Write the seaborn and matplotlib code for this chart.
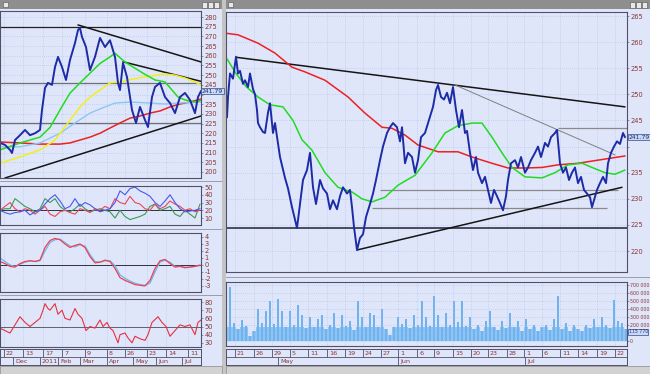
import matplotlib
matplotlib.use("Agg")
import matplotlib.pyplot as plt
import matplotlib.transforms as mtransforms
import seaborn as sns
from matplotlib.patches import Rectangle

sns.set_theme(style="white")
plt.rcParams["font.family"] = ["DejaVu Sans"]

# ---------------- data: left window (daily, bar index) ----------------
left_idx = [0, 5, 10, 12, 15, 20, 25, 30, 35, 40, 42, 45, 48, 52, 55, 58, 62, 66, 70, 75,
            78, 80, 82, 86, 90, 95, 100, 105, 110, 115, 118, 120, 123, 127, 132, 136, 140,
            145, 148, 152, 155, 160, 165, 170, 175, 180, 185, 190, 195, 198, 201]
left_close = [215, 214, 211.4, 209.8, 216.5, 219, 221.7, 219, 220, 221.7, 232, 243.4, 246,
              245, 254.2, 259.4, 254.2, 247.5, 257.8, 266.6, 273.3, 274.3, 269.7, 264.5,
              252.6, 259.4, 269.2, 264.5, 268, 259.4, 246, 242.3, 256.3, 249, 232, 225.3,
              233.6, 226.8, 223.2, 238.7, 243.9, 246, 238.7, 235.6, 230.4, 238.7, 240.8,
              237.2, 230.4, 238.7, 241.79]

left_green_idx = [0, 20, 40, 50, 60, 70, 80, 90, 100, 110, 115, 120, 125, 133, 143, 155,
                  165, 172, 178, 185, 195, 201]
left_green = [211.4, 215, 218, 223, 232, 240.7, 246, 251, 256, 259.4, 261.3, 259, 256.8,
              254.2, 251, 247.5, 246.5, 242.3, 238.7, 237.2, 236.1, 237]
left_yellow_idx = [0, 20, 40, 55, 70, 80, 90, 100, 110, 120, 133, 150, 165, 175, 185, 195, 201]
left_yellow = [204.6, 207.8, 211.4, 216.5, 226.8, 233.6, 238.7, 242.3, 246, 246.5, 248,
               249.5, 250.6, 250, 248.5, 246.5, 245]
left_lblue_idx = [0, 20, 40, 60, 75, 90, 105, 115, 130, 150, 165, 180, 201]
left_lblue = [213, 213, 215, 220, 225.3, 230.4, 233.6, 235.6, 236.1, 235.6, 235.1, 235.6, 236.1]
left_red_idx = [0, 20, 40, 60, 70, 80, 90, 100, 110, 120, 130, 140, 150, 160, 170, 180, 190, 201]
left_red = [215.5, 215, 214.4, 214.4, 215, 216.5, 218, 220, 222.7, 225.3, 227.8, 228.9,
            230.4, 231.5, 233.6, 235.1, 236.1, 237.7]

left_trend_a = ([78, 201], [275.9, 256.8])
left_trend_b = ([123, 201], [256.9, 246.8])
left_trend_low = ([5, 201], [196.9, 228.9])
left_levels = [275, 246.1, 225.4]

osc_idx = list(range(0, 201, 5))
osc_blue = [20, 17, 15, 17, 18, 20, 14, 18, 20, 28, 35, 40, 32, 22, 25, 35, 25, 30, 27, 22,
            18, 20, 22, 30, 45, 40, 48, 50, 45, 42, 38, 30, 25, 32, 40, 30, 22, 18, 19, 20, 22]
osc_red = [20, 25, 30, 22, 18, 22, 20, 15, 20, 25, 15, 12, 18, 20, 17, 15, 22, 20, 17, 22,
           20, 25, 22, 35, 30, 28, 38, 30, 28, 22, 20, 28, 22, 25, 32, 28, 25, 20, 22, 18, 20]
osc_green = [20, 22, 22, 35, 30, 25, 22, 18, 22, 35, 30, 35, 25, 20, 18, 22, 28, 22, 18, 20,
             22, 20, 18, 10, 20, 12, 8, 10, 12, 15, 25, 28, 20, 22, 25, 15, 12, 20, 15, 10, 28]

macd_red = [0.5, 0.2, -0.2, -0.3, 0.2, 0.5, 0.6, 0.5, 0.7, 2.5, 3.5, 3.8, 3.6, 3.0, 2.5,
            2.8, 3.0, 2.5, 1.2, 0.3, 0.4, 0.7, 0.5, -0.5, -1.8, -2.2, -2.5, -2.8, -2.9, -3.0,
            -2.2, -0.5, 0.6, 0.8, 0.2, -0.3, -0.2, -0.4, -0.3, -0.2, 0.0]
macd_blue = [1.0, 0.5, 0.0, -0.2, 0.1, 0.4, 0.6, 0.5, 0.6, 2.0, 3.2, 3.6, 3.7, 3.2, 2.7,
             2.6, 2.9, 2.7, 1.5, 0.5, 0.4, 0.6, 0.6, -0.1, -1.4, -1.9, -2.3, -2.6, -2.8, -2.9,
             -2.6, -1.0, 0.4, 0.7, 0.4, -0.2, -0.2, -0.3, -0.3, -0.2, -0.1]

rsi_idx = [0, 5, 10, 15, 20, 25, 30, 35, 40, 43, 45, 48, 50, 55, 58, 62, 65, 70, 75, 78, 82,
           86, 90, 95, 100, 103, 107, 110, 113, 118, 120, 125, 128, 132, 135, 140, 145, 148,
           152, 158, 162, 166, 170, 175, 180, 185, 190, 195, 198, 201]
rsi_vals = [48, 45, 42, 52, 62, 55, 50, 55, 60, 70, 78, 72, 70, 78, 65, 70, 60, 58, 72, 65,
            60, 45, 50, 48, 58, 50, 55, 48, 45, 30, 40, 42, 36, 30, 38, 35, 33, 40, 55, 62,
            55, 50, 38, 45, 52, 50, 52, 40, 55, 58]

left_day_pos = [4, 23, 43, 62, 85, 107, 125, 147, 166, 188]
left_day_lab = ["22", "13", "17", "7", "9", "8", "26", "23", "14", "11"]
left_mon_pos = [13, 40, 58, 80, 107, 133, 156, 182]
left_mon_lab = ["Dec", "2011", "Feb", "Mar", "Apr", "May", "Jun", "Jul"]

# ---------------- data: right window (hourly, bar index) ----------------
main_idx = [1, 2, 4, 7, 10, 12, 14, 17, 19, 22, 24, 27, 29, 31, 32, 34, 37, 39, 42, 44, 47,
            49, 54, 59, 62, 66, 69, 71, 74, 77, 81, 84, 87, 90, 94, 97, 101, 104, 107, 111,
            114, 117, 121, 124, 126, 128, 131, 134, 137, 140, 144, 147, 150, 154, 157, 161,
            164, 167, 171, 174, 176, 179, 182, 186, 189, 192, 195, 199, 202, 207, 210, 212,
            215, 218, 221, 224, 227, 230, 233, 236, 239, 241, 244, 247, 250, 252, 256, 259,
            262, 265, 268, 271, 274, 277, 280, 282, 285, 289, 292, 295, 299, 302, 305, 309,
            312, 315, 319, 322, 325, 329, 331, 334, 337, 340, 343, 346, 349, 352, 355, 358,
            361, 364, 366, 368, 371, 374, 377, 380, 382, 385, 388, 391, 394, 397, 399]
main_close = [245.6, 249.5, 254, 253, 257.2, 254, 254.5, 252, 252.7, 251.4, 254, 251, 250,
              247, 244.5, 243.7, 242.8, 242.6, 246.5, 248.3, 242.6, 244.5, 238, 234, 232,
              228.4, 226, 224.4, 229, 233.6, 235.5, 238.8, 232.2, 229, 233.6, 232, 231, 228,
              229.7, 228, 230.5, 232.2, 231, 231.7, 228.4, 224.6, 220.2, 222.5, 223.2, 226.5,
              229, 231, 233.6, 237.4, 240, 242.6, 243.7, 244.5, 243.7, 241, 243.7, 236.8,
              238.8, 238, 235, 237.4, 241.8, 242.6, 244.5, 247.6, 250.8, 251.8, 249.5, 249,
              250.3, 248.3, 251.4, 247, 243.7, 247, 242.6, 243, 238.8, 235.5, 238, 235, 233,
              234.2, 231.7, 229.2, 231.7, 230.5, 229.2, 227.8, 230.5, 233.6, 236.8, 237.4,
              236, 238, 235, 236, 237.4, 238.8, 240, 238, 240.7, 240, 241.8, 242.6, 243.2,
              236.8, 235, 236, 233.6, 235, 236, 233, 234.2, 231.7, 231, 230.3, 228.4, 229.7,
              231.7, 233, 234.2, 233, 236.8, 238.8, 240, 241, 240.5, 242.6, 241.79]

main_green_idx = [1, 10, 20, 32, 44, 57, 67, 76, 86, 99, 112, 126, 136, 146, 159, 172, 189,
                  206, 219, 232, 246, 256, 266, 276, 286, 299, 316, 329, 342, 356, 366, 379,
                  389, 399]
main_green = [256.8, 254, 251.5, 249.5, 248, 247.6, 245, 241.3, 239.3, 235, 232.2, 231.3, 230,
              229.4, 230.3, 232.6, 234.5, 238.8, 242.6, 244, 244.5, 244.5, 241.8, 238.8, 236,
              234.2, 234, 235, 236.5, 236.8, 236, 235, 234.7, 235.5]
main_red_idx = [0, 12, 32, 49, 66, 79, 99, 122, 139, 156, 166, 179, 192, 212, 232, 246, 266,
                282, 299, 316, 332, 352, 372, 399]
main_red = [261.7, 261.4, 259.8, 257.9, 255.2, 254.3, 252.7, 249.5, 246.4, 243.7, 243.5,
            242.2, 240.3, 239, 239, 238, 236.8, 235.9, 235.9, 236, 236.5, 236.8, 237.4, 238.2]

main_trend_top = ([10, 399], [257.1, 247.6])
main_trend_thin = ([229, 389], [251.8, 238.4])
main_trend_low = ([131, 396], [220.2, 232.2])
main_hlines = [(243.5, 332, 401), (231.7, 154, 392), (228.2, 146, 381)]
main_support = 224.4

vol_idx = list(range(0, 401, 4))
vol_k = [180, 680, 230, 150, 260, 190, 60, 120, 400, 220, 370, 500, 210, 520, 370, 180, 380,
         200, 450, 320, 160, 300, 170, 270, 330, 150, 200, 350, 160, 330, 190, 250, 140, 500,
         300, 180, 350, 330, 170, 400, 150, 70, 180, 300, 210, 280, 160, 330, 200, 500, 300,
         190, 560, 330, 180, 350, 200, 500, 240, 500, 190, 300, 150, 200, 130, 250, 380, 170,
         140, 250, 160, 350, 180, 250, 130, 280, 150, 200, 120, 170, 200, 140, 280, 560, 150,
         220, 130, 200, 150, 120, 200, 160, 280, 180, 300, 200, 160, 510, 250, 230, 150]
vol_base_k = 170  # level of the dense block of small hourly bars

main_day_pos = [9, 28, 46, 64, 82, 101, 119, 137, 155, 172, 191, 208, 227, 245, 262, 281, 298,
                316, 334, 352, 371, 389]
main_day_lab = ["21", "26", "29", "5", "11", "16", "19", "24", "27", "1", "6", "9", "15",
                "20", "23", "28", "1", "6", "11", "14", "19", "22"]
main_mon_pos = [52, 172, 299]
main_mon_lab = ["May", "Jun", "Jul"]

# ---------------- styling ----------------
W, H = 650, 374
CLIENT = "#dfe6fa"
GRID = "#a9bdec"
EDGE = "#50506a"
LABEL = "#8b3434"
NAVY = "#1d2ca6"

fig = plt.figure(figsize=(6.5, 3.74), dpi=100)
fig.patch.set_facecolor("#c4c4c4")


def px_axes(x0, y0, x1, y1):
    return fig.add_axes([x0 / W, 1 - y1 / H, (x1 - x0) / W, (y1 - y0) / H])


# window chrome
bg = px_axes(0, 0, W, H)
bg.set_xlim(0, W)
bg.set_ylim(H, 0)
bg.axis("off")
for x0, w in [(0, 222), (226, 424)]:
    bg.add_patch(Rectangle((x0, 9), w, 357, fc=CLIENT, ec="none"))
    bg.add_patch(Rectangle((x0, 0), w, 9, fc="#8e8e8e", ec="none"))
    bg.add_patch(Rectangle((x0, 366), w, 8, fc="#d2d2d2", ec="#909090", lw=0.5))
    for k in range(3):
        bg.add_patch(Rectangle((x0 + w - 20 + k * 6, 1.5), 5, 6, fc="#e8e8e8", ec="#505050", lw=0.4))
bg.add_patch(Rectangle((228, 2), 5, 5, fc="#e8e8e8", ec="#505050", lw=0.4))
bg.add_patch(Rectangle((3, 2), 5, 5, fc="#e8e8e8", ec="#505050", lw=0.4))
for y in [181, 229, 295]:
    bg.plot([0, 222], [y, y], color="#9090a0", lw=0.6)
bg.plot([226, 650], [277, 277], color="#9090a0", lw=0.6)


def style(ax, xlim, ylim, yticks, ylabels, size=4.8, pad=1.2):
    ax.set_facecolor(CLIENT)
    ax.set_xlim(*xlim)
    ax.set_ylim(*ylim)
    ax.set_yticks(yticks)
    ax.set_yticklabels(ylabels)
    ax.yaxis.tick_right()
    ax.tick_params(axis="y", length=1.2, width=0.4, pad=pad, labelsize=size,
                   labelcolor=LABEL, color=EDGE)
    ax.set_xticks([])
    ax.set_xlabel("")
    ax.set_ylabel("")
    for s in ax.spines.values():
        s.set_color(EDGE)
        s.set_linewidth(0.8)


def price_box(ax, value, text, size=4.4):
    tr = mtransforms.blended_transform_factory(ax.transAxes, ax.transData)
    ax.text(1.004, value, text, transform=tr, fontsize=size, color="#203060", va="center",
            ha="left", bbox=dict(boxstyle="square,pad=0.12", fc="#c9d8f6", ec="#304a90", lw=0.5))


def line(ax, x, y, color, lw=0.9):
    sns.lineplot(x=x, y=y, ax=ax, color=color, linewidth=lw, legend=False)


def date_strip(x0, x1, xlim, dpos, dlab, mpos, mlab):
    ax = px_axes(x0, 349, x1, 365)
    ax.set_facecolor(CLIENT)
    ax.set_xlim(*xlim)
    ax.set_ylim(2, 0)
    ax.set_xticks([])
    ax.set_yticks([])
    for s in ax.spines.values():
        s.set_color(EDGE)
        s.set_linewidth(0.7)
    ax.axhline(1, color=EDGE, lw=0.6)
    ax.vlines(dpos, 0, 1, color=EDGE, lw=0.6)
    ax.vlines(mpos, 1, 2, color=EDGE, lw=0.6)
    for p, t in zip(dpos, dlab):
        ax.text(p + 2, 0.55, t, fontsize=4.6, color=LABEL, va="center", ha="left")
    for p, t in zip(mpos, mlab):
        ax.text(p + 2, 1.55, t, fontsize=4.6, color=LABEL, va="center", ha="left")


# ---------------- left window ----------------
lx = (0, 201)
ax = px_axes(0, 11, 201, 178)
ticks = list(range(200, 285, 5))
style(ax, lx, (196.9, 283.1), ticks, [str(t) if t != 240 else "" for t in ticks])
ax.vlines(left_day_pos, 196.9, 283.1, color=GRID, lw=0.5, ls=(0, (1, 2)))
ax.hlines(ticks, *lx, color=GRID, lw=0.5, ls=(0, (1, 2)))
ax.hlines(left_levels, *lx, color=["#202020", "#707070", "#707070"], lw=0.9)
for tl in (left_trend_a, left_trend_b, left_trend_low):
    line(ax, tl[0], tl[1], "#151515", 1.1)
line(ax, left_red_idx, left_red, "#ee2020", 1.1)
line(ax, left_lblue_idx, left_lblue, "#8cc6f4", 1.0)
line(ax, left_yellow_idx, left_yellow, "#f2f01c", 1.1)
line(ax, left_green_idx, left_green, "#20dc20", 1.1)
line(ax, left_idx, left_close, NAVY, 1.4)
price_box(ax, 241.79, "241.79")

ax = px_axes(0, 186, 201, 225)
style(ax, lx, (1, 51.3), [10, 20, 30, 40, 50], ["10", "20", "30", "40", "50"])
ax.vlines(left_day_pos, 1, 51.3, color=GRID, lw=0.5, ls=(0, (1, 2)))
ax.axhline(20, color="#303040", lw=0.7)
line(ax, osc_idx, osc_green, "#3c9a56", 0.8)
line(ax, osc_idx, osc_red, "#e8485a", 0.8)
line(ax, osc_idx, osc_blue, "#4a58ee", 0.8)

ax = px_axes(0, 233, 201, 292)
style(ax, lx, (-3.86, 4.57), list(range(-3, 5)), [str(v) for v in range(-3, 5)])
ax.vlines(left_day_pos, -3.86, 4.57, color=GRID, lw=0.5, ls=(0, (1, 2)))
ax.axhline(0, color="#303040", lw=0.7)
line(ax, osc_idx, macd_blue, "#6ab8f0", 0.9)
line(ax, osc_idx, macd_red, "#f04050", 0.9)

ax = px_axes(0, 299, 201, 347)
style(ax, lx, (24.9, 83.7), [30, 40, 50, 60, 70, 80], ["30", "40", "50", "60", "70", "80"])
ax.vlines(left_day_pos, 24.9, 83.7, color=GRID, lw=0.5, ls=(0, (1, 2)))
ax.axhline(50, color="#606070", lw=0.7)
line(ax, rsi_idx, rsi_vals, "#e83040", 0.8)

date_strip(0, 201, lx, left_day_pos, left_day_lab, left_mon_pos, left_mon_lab)

# ---------------- right window ----------------
mx = (0, 401)
ax = px_axes(226, 12, 627, 272)
ticks = list(range(220, 270, 5))
style(ax, mx, (215.98, 265.77), ticks, [str(t) if t != 240 else "" for t in ticks])
ax.vlines(main_day_pos, 215.98, 265.77, color=GRID, lw=0.5, ls=(0, (1, 2)))
ax.hlines(ticks, *mx, color=GRID, lw=0.5, ls=(0, (1, 2)))
ax.axhline(main_support, color="#303040", lw=1.2)
for val, a, b in main_hlines:
    ax.hlines(val, a, b, color="#8a8a8a", lw=0.9)
line(ax, main_trend_top[0], main_trend_top[1], "#151515", 1.1)
line(ax, main_trend_thin[0], main_trend_thin[1], "#808080", 0.7)
line(ax, main_trend_low[0], main_trend_low[1], "#151515", 1.1)
line(ax, main_red_idx, main_red, "#ee2020", 1.1)
line(ax, main_green_idx, main_green, "#20dc20", 1.1)
line(ax, main_idx, main_close, NAVY, 1.4)
price_box(ax, 241.79, "241.79")

ax = px_axes(226, 282, 627, 346)
vt = [0, 100000, 200000, 300000, 400000, 500000, 600000, 700000]
style(ax, mx, (-62500, 737500), vt, ["0", "", "200 000", "300 000", "400 000", "500 000",
                                      "600 000", "700 000"], size=3.4, pad=0.8)
ax.vlines(main_day_pos, -62500, 737500, color=GRID, lw=0.5, ls=(0, (1, 2)))
ax.hlines(vt, *mx, color=GRID, lw=0.5, ls=(0, (1, 2)))
ax.bar(vol_idx, [min(v, vol_base_k) * 1000 for v in vol_k], width=4.0,
       color="#8cc4f4", edgecolor="none")
ax.bar(vol_idx, [v * 1000 for v in vol_k], width=1.3, color="#6fb2ee", edgecolor="none")
price_box(ax, 115770, "115 770", size=3.3)

date_strip(226, 627, mx, main_day_pos, main_day_lab, main_mon_pos, main_mon_lab)

fig.savefig("out.png", dpi=100, facecolor=fig.get_facecolor())
